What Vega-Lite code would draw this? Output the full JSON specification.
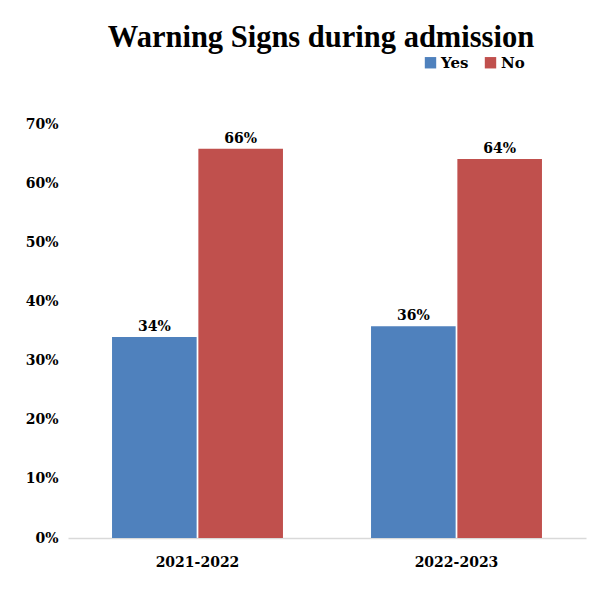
{
  "$schema": "https://vega.github.io/schema/vega-lite/v6.json",
  "width": 518,
  "height": 414,
  "autosize": "none",
  "padding": {"left": 68, "top": 124, "right": 14, "bottom": 76},
  "background": "white",
  "title": {
    "text": "Warning Signs during admission",
    "font": "Liberation Serif",
    "fontSize": 30.5,
    "fontWeight": "bold",
    "color": "#000000",
    "anchor": "middle",
    "offset": 2,
    "dx": -6
  },
  "data": {
    "values": [
      {"year": "2021-2022", "answer": "Yes", "value": 0.34},
      {"year": "2021-2022", "answer": "No", "value": 0.658},
      {"year": "2022-2023", "answer": "Yes", "value": 0.358},
      {"year": "2022-2023", "answer": "No", "value": 0.641}
    ]
  },
  "encoding": {
    "x": {
      "field": "year",
      "type": "nominal",
      "scale": {"paddingInner": 0.34, "paddingOuter": 0.17},
      "axis": {
        "title": null,
        "labelAngle": 0,
        "labelFont": "DejaVu Serif",
        "labelFontSize": 14,
        "labelFontWeight": "bold",
        "labelColor": "#000000",
        "labelPadding": 17,
        "ticks": false,
        "domainColor": "#d9d9d9",
        "domainWidth": 1.5
      }
    },
    "xOffset": {
      "field": "answer",
      "type": "nominal",
      "sort": ["Yes", "No"],
      "scale": {"paddingInner": 0.02}
    },
    "y": {
      "field": "value",
      "type": "quantitative",
      "scale": {"domain": [0, 0.7]},
      "axis": {
        "title": null,
        "format": ".0%",
        "values": [0, 0.1, 0.2, 0.3, 0.4, 0.5, 0.6, 0.7],
        "labelOverlap": false,
        "grid": false,
        "domain": false,
        "ticks": false,
        "labelFont": "DejaVu Serif",
        "labelFontSize": 14,
        "labelFontWeight": "bold",
        "labelColor": "#000000",
        "labelPadding": 10
      }
    },
    "color": {
      "field": "answer",
      "type": "nominal",
      "sort": ["Yes", "No"],
      "scale": {"domain": ["Yes", "No"], "range": ["#4F81BD", "#C0504D"]},
      "legend": {
        "title": null,
        "orient": "none",
        "direction": "horizontal",
        "legendX": 355,
        "legendY": -69,
        "symbolType": "square",
        "symbolSize": 130,
        "symbolStrokeWidth": 0,
        "symbolOpacity": 1,
        "labelFont": "DejaVu Serif",
        "labelFontSize": 15,
        "labelFontWeight": "bold",
        "labelColor": "#000000",
        "labelOffset": 3,
        "columnPadding": 14
      }
    }
  },
  "layer": [
    {"mark": {"type": "bar", "opacity": 1}},
    {
      "mark": {
        "type": "text",
        "baseline": "bottom",
        "dy": -3,
        "font": "DejaVu Serif",
        "fontSize": 14,
        "fontWeight": "bold",
        "color": "#000000"
      },
      "encoding": {
        "text": {"field": "value", "type": "quantitative", "format": ".0%"},
        "color": {"value": "#000000"}
      }
    }
  ],
  "config": {
    "view": {"stroke": null}
  }
}
